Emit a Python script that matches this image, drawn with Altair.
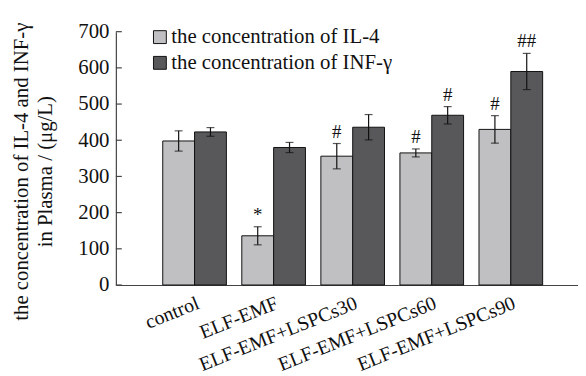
import altair as alt
import pandas as pd

groups = ["control", "ELF-EMF", "ELF-EMF+LSPCs30", "ELF-EMF+LSPCs60", "ELF-EMF+LSPCs90"]
series = ["the concentration of IL-4", "the concentration of INF-γ"]
il4 = [398, 136, 356, 365, 430]
il4_err = [28, 25, 35, 11, 38]
inf = [423, 380, 436, 469, 590]
inf_err = [12, 14, 35, 24, 50]
il4_sig = ["", "*", "#", "#", "#"]
inf_sig = ["", "", "", "#", "##"]
y_ticks = [0, 100, 200, 300, 400, 500, 600, 700]
colors = ["#c0c0c2", "#58585a"]

rows = []
for i, g in enumerate(groups):
    rows.append(dict(group=g, series=series[0], value=il4[i], err=il4_err[i], sig=il4_sig[i]))
    rows.append(dict(group=g, series=series[1], value=inf[i], err=inf_err[i], sig=inf_sig[i]))
df = pd.DataFrame(rows)
df["lo"] = df["value"] - df["err"]
df["hi"] = df["value"] + df["err"]
ticks_df = pd.DataFrame({"v": y_ticks})

FONT = "Liberation Serif"
FS = 21

x_axis = alt.Axis(
    title=None, ticks=False, labelAngle=-22, labelAlign="right", labelBaseline="top",
    labelFontSize=20, labelPadding=8, labelFont=FONT, labelColor="#111",
    labelOverlap=False, labelLimit=0,
    domainColor="#444", domainWidth=1.2,
)
y_axis = alt.Axis(
    values=y_ticks, ticks=False, grid=False, labelFontSize=FS, labelFont=FONT,
    labelColor="#111", labelPadding=7, labelOverlap=False, domainColor="#444", domainWidth=1.2,
    title=["the concentration of IL-4 and INF-γ", "in Plasma / (μg/L)"],
    titleFont=FONT, titleFontSize=FS, titleFontWeight="normal", titleColor="#111",
    titleAngle=-90, titleAlign="center", titleBaseline="alphabetic",
    titleLineHeight=24, titleX=-89, titleY=141, titleLimit=0,
)
x_scale = alt.Scale(paddingInner=0.195, paddingOuter=0.52, align=0.57)
y_scale = alt.Scale(domain=[0, 700], nice=False)

x_enc = alt.X("group:N", sort=groups, scale=x_scale, axis=x_axis)
xo_enc = alt.XOffset("series:N", sort=series, scale=alt.Scale(domain=series, paddingInner=0, paddingOuter=0))


def y_enc(field):
    return alt.Y(field, scale=y_scale, axis=y_axis)


base = alt.Chart(df)

bars = base.mark_bar(stroke="#111", strokeWidth=1).encode(
    x=x_enc,
    xOffset=xo_enc,
    y=y_enc("value:Q"),
    color=alt.Color(
        "series:N",
        sort=series,
        scale=alt.Scale(domain=series, range=colors),
        legend=alt.Legend(
            title=None, orient="none", legendX=34, legendY=-5, symbolType="square",
            symbolSize=169, symbolStrokeColor="#111", symbolStrokeWidth=1,
            labelFont=FONT, labelFontSize=FS, labelColor="#111", labelOffset=1,
            labelLimit=0, rowPadding=4,
        ),
    ),
)

err_rule = base.mark_rule(color="#111", strokeWidth=1.2).encode(
    x=x_enc, xOffset=xo_enc, y=y_enc("lo:Q"), y2="hi:Q"
)
cap_lo = base.mark_tick(color="#111", size=8, thickness=1.2).encode(
    x=x_enc, xOffset=xo_enc, y=y_enc("lo:Q")
)
cap_hi = base.mark_tick(color="#111", size=8, thickness=1.2).encode(
    x=x_enc, xOffset=xo_enc, y=y_enc("hi:Q")
)
sig_text = base.mark_text(font=FONT, fontSize=19, baseline="bottom", dy=-2, color="#111").encode(
    x=x_enc, xOffset=xo_enc, y=y_enc("hi:Q"), text="sig:N"
)
inner_ticks = alt.Chart(ticks_df).mark_rule(color="#444", strokeWidth=1.2).encode(
    y=y_enc("v:Q"), x=alt.value(0), x2=alt.value(6)
)

chart = alt.layer(bars, err_rule, cap_lo, cap_hi, sig_text, inner_ticks).properties(
    width=467, height=256,
    autosize=alt.AutoSizeParams(type="none"),
    padding={"left": 109, "top": 22, "right": 0, "bottom": 88},
    background="white",
).configure_view(stroke=None)

chart.save("out.html", embed_options={"renderer": "svg", "actions": False})
